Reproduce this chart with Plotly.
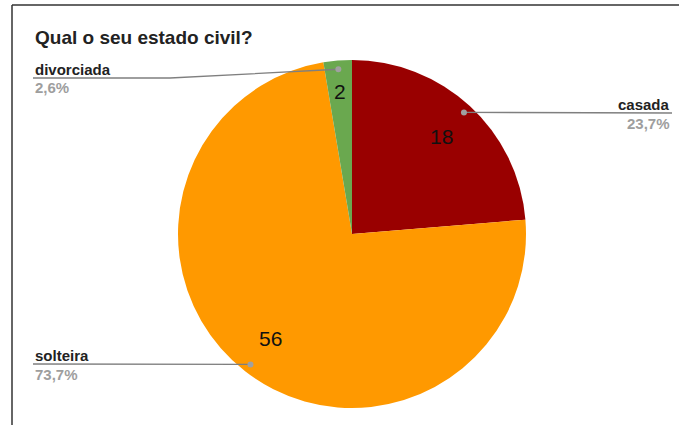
import math
import plotly.graph_objects as go

# ---- data ----
categories = ["casada", "solteira", "divorciada"]
values = [18, 56, 2]
colors = ["#990000", "#ff9900", "#6aa84f"]
title_text = "Qual o seu estado civil?"

W, H = 679, 425
FONT = "Liberation Sans, Arial, sans-serif"

# pie geometry (pixels)
CX, CY, R = 352, 234, 174


def px(x):
    return x / W


def py(y):
    return 1 - y / H


fig = go.Figure()
fig.add_trace(go.Pie(
    labels=categories, values=values, sort=False, direction="clockwise",
    rotation=0, marker=dict(colors=colors, line=dict(width=0)),
    textinfo="none", hoverinfo="label+value+percent", showlegend=False,
    domain=dict(x=[px(CX - R), px(CX + R)], y=[py(CY + R), py(CY - R)]),
))

total = sum(values)
# label placement style per category: side, text anchor x, line y
label_layout = {
    "casada": dict(side="right", x=672, y=113),
    "solteira": dict(side="left", x=33, y=364),
    "divorciada": dict(side="left", x=33, y=78, bend=170),
}
inner_r = {"casada": 0.76, "solteira": 0.76, "divorciada": 0.82}

annotations = [dict(
    text="<b>" + title_text + "</b>", x=px(33), y=py(38), xref="paper", yref="paper",
    xanchor="left", yanchor="middle", showarrow=False,
    font=dict(family=FONT, size=19, color="#222222"),
)]
shapes = [
    dict(type="line", xref="paper", yref="paper", x0=px(12), x1=px(12), y0=py(5), y1=py(H + 2),
         line=dict(color="#333333", width=1.5)),
    dict(type="line", xref="paper", yref="paper", x0=px(12), x1=px(W + 2), y0=py(5), y1=py(5),
         line=dict(color="#333333", width=1.5)),
]

cum = 0
for cat, v in zip(categories, values):
    mid = (cum + v / 2) / total * 2 * math.pi
    cum += v
    s, c = math.sin(mid), -math.cos(mid)
    # value inside slice
    ri = inner_r[cat] * R
    annotations.append(dict(
        text=str(v), x=px(CX + ri * s), y=py(CY + ri * c), xref="paper", yref="paper",
        showarrow=False, xanchor="center", yanchor="middle",
        font=dict(family=FONT, size=21, color="#111111"),
    ))
    # leader dot
    dx, dy = CX + 0.95 * R * s, CY + 0.95 * R * c
    lay = label_layout[cat]
    if "bend" in lay:
        path = f"M {px(lay['x'])},{py(lay['y'])} L {px(lay['bend'])},{py(lay['y'])} L {px(dx)},{py(dy)}"
    else:
        path = f"M {px(lay['x'])},{py(lay['y'])} L {px(dx)},{py(dy)}"
    shapes.append(dict(type="path", xref="paper", yref="paper", path=path,
                       line=dict(color="#7f7f7f", width=1.3)))
    shapes.append(dict(type="circle", xref="paper", yref="paper",
                       x0=px(dx - 3), x1=px(dx + 3), y0=py(dy + 3), y1=py(dy - 3),
                       fillcolor="#a0a0a0", line=dict(width=0)))
    anchor = "right" if lay["side"] == "right" else "left"
    pct = f"{v / total * 100:.1f}%".replace(".", ",")
    annotations.append(dict(
        text="<b>" + cat + "</b>", x=px(lay["x"]), y=py(lay["y"] - 9), xref="paper", yref="paper",
        showarrow=False, xanchor=anchor, yanchor="middle",
        font=dict(family=FONT, size=15, color="#222222"),
    ))
    annotations.append(dict(
        text="<b>" + pct + "</b>", x=px(lay["x"]), y=py(lay["y"] + 10), xref="paper", yref="paper",
        showarrow=False, xanchor=anchor, yanchor="middle",
        font=dict(family=FONT, size=15, color="#9e9e9e"),
    ))

fig.update_layout(
    width=W, height=H, margin=dict(l=0, r=0, t=0, b=0),
    paper_bgcolor="white", plot_bgcolor="white",
    annotations=annotations, shapes=shapes,
)
fig.write_html(
    "out.html",
    config={"displayModeBar": False},
    post_script="document.body.style.margin='0px';document.body.style.overflow='hidden';",
)
